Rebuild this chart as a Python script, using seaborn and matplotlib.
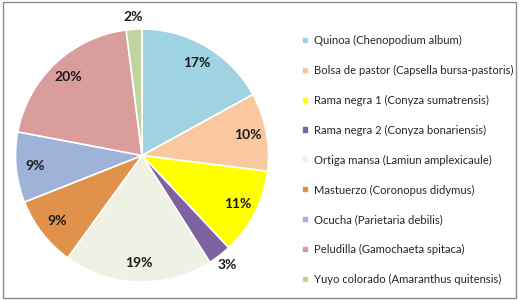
import numpy as np
import matplotlib
matplotlib.use("Agg")
import matplotlib.pyplot as plt
import seaborn as sns

# datos de malezas (% sobre el total)
nombres = ["Quinoa (Chenopodium album)", "Bolsa de pastor (Capsella bursa-pastoris)",
           "Rama negra 1 (Conyza sumatrensis)", "Rama negra 2 (Conyza bonariensis)",
           "Ortiga mansa (Lamiun amplexicaule)", "Mastuerzo (Coronopus didymus)",
           "Ocucha (Parietaria debilis)", "Peludilla (Gamochaeta spitaca)",
           "Yuyo colorado (Amaranthus quitensis)"]
valores = [17, 10, 11, 3, 19, 9, 9, 20, 2]
colores = ["#9fd3e1", "#f9c89f", "#ffff00", "#7f63a1", "#eef1e3",
           "#e0924b", "#9fb3d8", "#d99d9c", "#c0d49f"]

sns.set_theme(style="white")
plt.rcParams['font.family'] = ['Lato', 'DejaVu Sans']

fig = plt.figure(figsize=(5.19, 3.0), dpi=100)
fig.patch.set_facecolor("white")
ax = fig.add_axes([-0.0067, -0.0033, 0.5607, 0.97])
ax.patch.set_alpha(0)

wedges, _ = ax.pie(valores, colors=colores, startangle=90, counterclock=False,
                   radius=1.0, wedgeprops=dict(edgecolor="white", linewidth=1.2))
ax.set_aspect("equal")
ax.set_xlim(-1.15, 1.15)
ax.set_ylim(-1.15, 1.15)

# etiquetas de porcentaje: dentro para porciones grandes, fuera para las chicas
total = float(sum(valores))
acum = 0.0
for v in valores:
    medio = 90 - (acum + v / 2) / total * 360
    acum += v
    r = 0.85 if v >= 5 else 1.1
    ang = np.deg2rad(medio)
    ax.text(r * np.cos(ang), r * np.sin(ang), f"{v}%", ha="center", va="center",
            fontsize=10, fontweight="bold", color="#1a1a1a")

fig.legend(wedges, nombres, loc="upper left", bbox_to_anchor=(0.573, 0.897),
           frameon=False, fontsize=8.1, handlelength=0.6, handleheight=0.6,
           handletextpad=0.45, labelspacing=1.67, borderaxespad=0)

# borde exterior del grafico
fig.add_artist(plt.Rectangle((0.005, 0.008), 0.99, 0.985, transform=fig.transFigure,
                             fill=False, edgecolor="#8c8c8c", linewidth=1.0))

fig.savefig("out.png", dpi=100)
